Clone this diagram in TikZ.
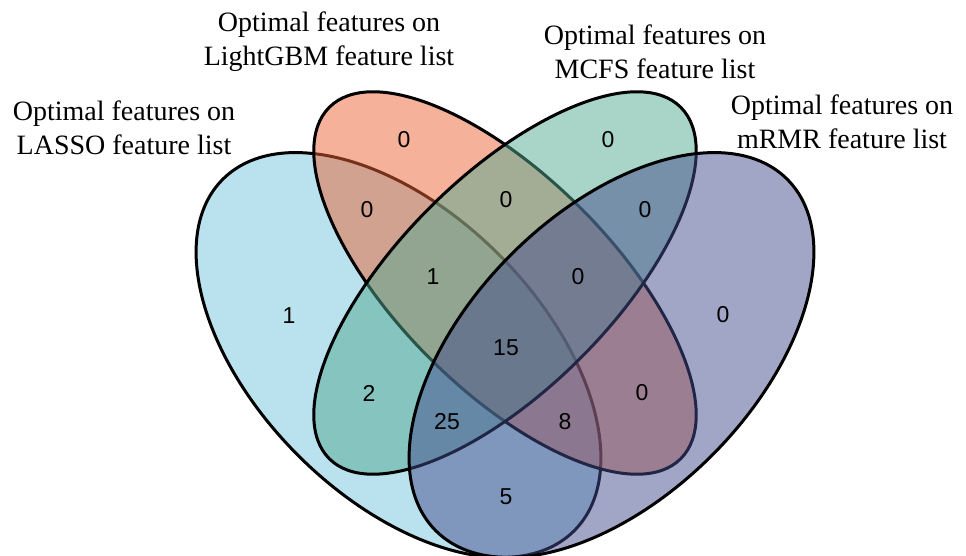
\documentclass[tikz,border=0pt]{standalone}
\usepackage{fontspec}
\setmainfont{Liberation Serif}
\newfontfamily\countfont{Liberation Sans}
\definecolor{lassoblue}{HTML}{75C3DD}
\definecolor{lgbmred}{HTML}{EB6335}
\definecolor{mcfsgreen}{HTML}{53A991}
\definecolor{mrmrpurple}{HTML}{454D8D}
\tikzset{
    setshape/.style={
        draw=black,
        line width=3pt,
        fill opacity=0.5
    },
    count/.style={
        font=\countfont\fontsize{23}{23}\selectfont,
        inner sep=0pt
    },
    setlabel/.style={
        font=\fontsize{28}{34}\selectfont,
        align=center,
        inner sep=0pt
    }
}
\begin{document}
\begin{tikzpicture}[x=1pt,y=1pt]

    \useasboundingbox (0,0) rectangle (966,556);
    \clip (0,0) rectangle (966,556);

    % the four sets
    \draw[setshape, fill=lassoblue] (398.5,201) circle[x radius=248.5, y radius=142, rotate=-45];
    \draw[setshape, fill=lgbmred] (505,273) circle[x radius=248.5, y radius=106.5, rotate=-45];
    \draw[setshape, fill=mcfsgreen] (505,273) circle[x radius=248.5, y radius=106.5, rotate=45];
    \draw[setshape, fill=mrmrpurple] (611.5,201) circle[x radius=248.5, y radius=142, rotate=45];

    % counts
    \node[count] (a) at (289,240) {1};
    \node[count] (b) at (404,416) {0};
    \node[count] (c) at (608,416) {0};
    \node[count] (d) at (723,241) {0};
    \node[count] (ab) at (367,346) {0};
    \node[count] (bc) at (506,356) {0};
    \node[count] (cd) at (645,346) {0};
    \node[count] (abc) at (433,279) {1};
    \node[count] (bcd) at (578,279) {0};
    \node[count] (abcd) at (506,208) {15};
    \node[count] (ac) at (369,163) {2};
    \node[count] (bd) at (642,163) {0};
    \node[count] (acd) at (447,134) {25};
    \node[count] (abd) at (565,134) {8};
    \node[count] (ad) at (506,59) {5};

    % set names
    \node[setlabel] (lasso) at (124,428) {Optimal features on\\LASSO feature list};
    \node[setlabel] (lgbm) at (329,514) {Optimal features on\\LightGBM feature list};
    \node[setlabel] (mcfs) at (655,504) {Optimal features on\\MCFS feature list};
    \node[setlabel] (mrmr) at (842,434) {Optimal features on\\mRMR feature list};

\end{tikzpicture}
\end{document}
